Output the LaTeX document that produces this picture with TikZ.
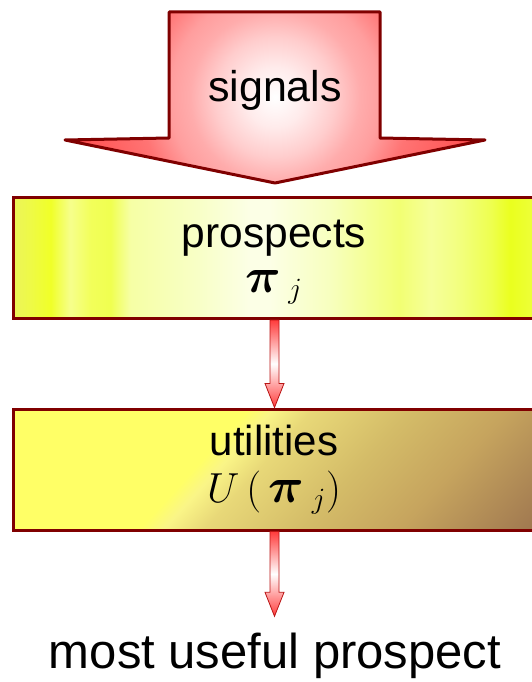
\RequirePackage{fix-cm}
\documentclass[tikz,border=0pt]{standalone}
\usepackage{amsmath,bm}
\usepackage{fontspec}
\setmainfont{Liberation Sans}
\usetikzlibrary{calc}

\definecolor{bord}{RGB}{128,0,0}
\definecolor{arrbord}{RGB}{185,20,20}
\definecolor{arrred}{RGB}{255,60,60}
\definecolor{sg0}{RGB}{255,255,255}
\definecolor{sg1}{RGB}{255,235,235}
\definecolor{sg2}{RGB}{255,205,205}
\definecolor{sg3}{RGB}{255,172,172}
\definecolor{sg4}{RGB}{255,158,158}
\definecolor{sg5}{RGB}{255,116,116}
\definecolor{sg6}{RGB}{255,72,72}
\definecolor{uy}{RGB}{255,255,102}
\definecolor{u0}{RGB}{250,245,135}
\definecolor{u1}{RGB}{232,216,120}
\definecolor{u2}{RGB}{212,188,104}
\definecolor{u3}{RGB}{198,164,94}
\definecolor{u4}{RGB}{160,120,80}
\definecolor{u5}{RGB}{145,105,70}
\definecolor{p00}{RGB}{236,244,90}
\definecolor{p01}{RGB}{238,250,70}
\definecolor{p02}{RGB}{240,255,40}
\definecolor{p03}{RGB}{246,255,140}
\definecolor{p04}{RGB}{242,255,90}
\definecolor{p05}{RGB}{240,255,80}
\definecolor{p06}{RGB}{246,255,165}
\definecolor{p07}{RGB}{248,255,200}
\definecolor{p08}{RGB}{252,255,230}
\definecolor{p09}{RGB}{247,255,190}
\definecolor{p10}{RGB}{242,255,115}
\definecolor{p11}{RGB}{246,255,155}
\definecolor{p12}{RGB}{242,255,125}
\definecolor{p13}{RGB}{238,255,80}
\definecolor{p14}{RGB}{234,255,30}
\definecolor{p15}{RGB}{238,255,60}

\pgfdeclareradialshading{sigrad}{\pgfpoint{0bp}{0bp}}{color(0bp)=(sg0); color(3.26bp)=(sg1); color(6.52bp)=(sg2); color(9.24bp)=(sg3); color(11.5bp)=(sg4); color(14.7bp)=(sg5); color(23.4bp)=(sg6); color(50bp)=(sg6)}
\pgfdeclarehorizontalshading{prosp}{100bp}{color(0bp)=(p00); color(25bp)=(p00); color(26.65bp)=(p01); color(28.55bp)=(p02); color(30.45bp)=(p03); color(32.4bp)=(p04); color(34.3bp)=(p05); color(36.2bp)=(p06); color(42.9bp)=(p07); color(47.7bp)=(p08); color(49.5bp)=(p08); color(55.35bp)=(p09); color(62bp)=(p10); color(65bp)=(p11); color(67.8bp)=(p12); color(70.7bp)=(p13); color(72.6bp)=(p14); color(75bp)=(p15); color(100bp)=(p15)}
\pgfdeclarehorizontalshading{util}{100bp}{color(0bp)=(uy); color(45bp)=(uy); color(46.5bp)=(u0); color(49bp)=(u1); color(55bp)=(u2); color(61bp)=(u3); color(69.2bp)=(u4); color(75bp)=(u5); color(100bp)=(u5)}

\tikzset{
  boxstyle/.style={draw=bord, line width=3pt, minimum width=522pt, minimum height=121pt, inner sep=0pt},
  lbl/.style={font=\fontsize{42.5}{50}\selectfont, anchor=base, inner sep=0pt},
  mathlbl/.style={font=\fontsize{42}{48}\selectfont, anchor=base, inner sep=0pt},
  fatarr/.style={draw=arrbord, line width=0.8pt, line join=miter, top color=arrred, bottom color=arrred, middle color=white},
}

\newcommand\bigpi{\scalebox{1.18}{$\bm{\pi}$}}

\newcommand\fatarrow[2]{%
  \path[fatarr] let \p1=(#1), \p2=(#2) in
    (\x1-4.5pt,\y1) -- (\x1-4.5pt,\y2+24pt) -- (\x1-9.5pt,\y2+24pt) -- (\x1,\y2)
    -- (\x1+9.5pt,\y2+24pt) -- (\x1+4.5pt,\y2+24pt) -- (\x1+4.5pt,\y1) -- cycle;}

\begin{document}
\begin{tikzpicture}[x=1pt,y=-1pt]
\useasboundingbox (0,0) rectangle (531,682);

% big input arrow
\path[draw=bord, line width=3pt, line join=round,
  path picture={\shade[shading=sigrad] (45,-133) rectangle (505,327);}]
  (169,12) -- (380,12) -- (380,138) -- (485,140) -- (275,183) -- (65,140) -- (169,138) -- cycle;
\node[lbl, font=\fontsize{43}{50}\selectfont] (signals) at (275,102) {signals};

% prospects box
\node[boxstyle, shade, shading=prosp] (pbox) at (274.5,258) {};
\node[lbl] (ptxt) at (274,247) {prospects};
\node[mathlbl] (pmath) at (274,292) {$\bigpi_{\kern7pt j}$};

% utilities box
\node[boxstyle, fill=uy,
  path picture={\begin{scope}[transform canvas={rotate around={-42.4:(path picture bounding box.center)}}]
     \shade[shading=util] ($(path picture bounding box.center)+(-300,-300)$) rectangle ($(path picture bounding box.center)+(300,300)$);
   \end{scope}}] (ubox) at (274.5,469.5) {};
\node[lbl, font=\fontsize{42}{50}\selectfont] (utxt) at (274,455) {utilities};
\node[mathlbl] (umath) at (274,502) {$U\,(\,\bigpi_{\kern8pt j})$};

% result
\node[anchor=base, inner sep=0pt, font=\fontsize{49}{58}\selectfont] (goal) at (275,668) {most useful prospect};
\coordinate (goaltip) at ($(goal.north)+(0,-16)$);

% connectors
\fatarrow{pbox.south}{ubox.north}
\fatarrow{ubox.south}{goaltip}
\end{tikzpicture}
\end{document}
